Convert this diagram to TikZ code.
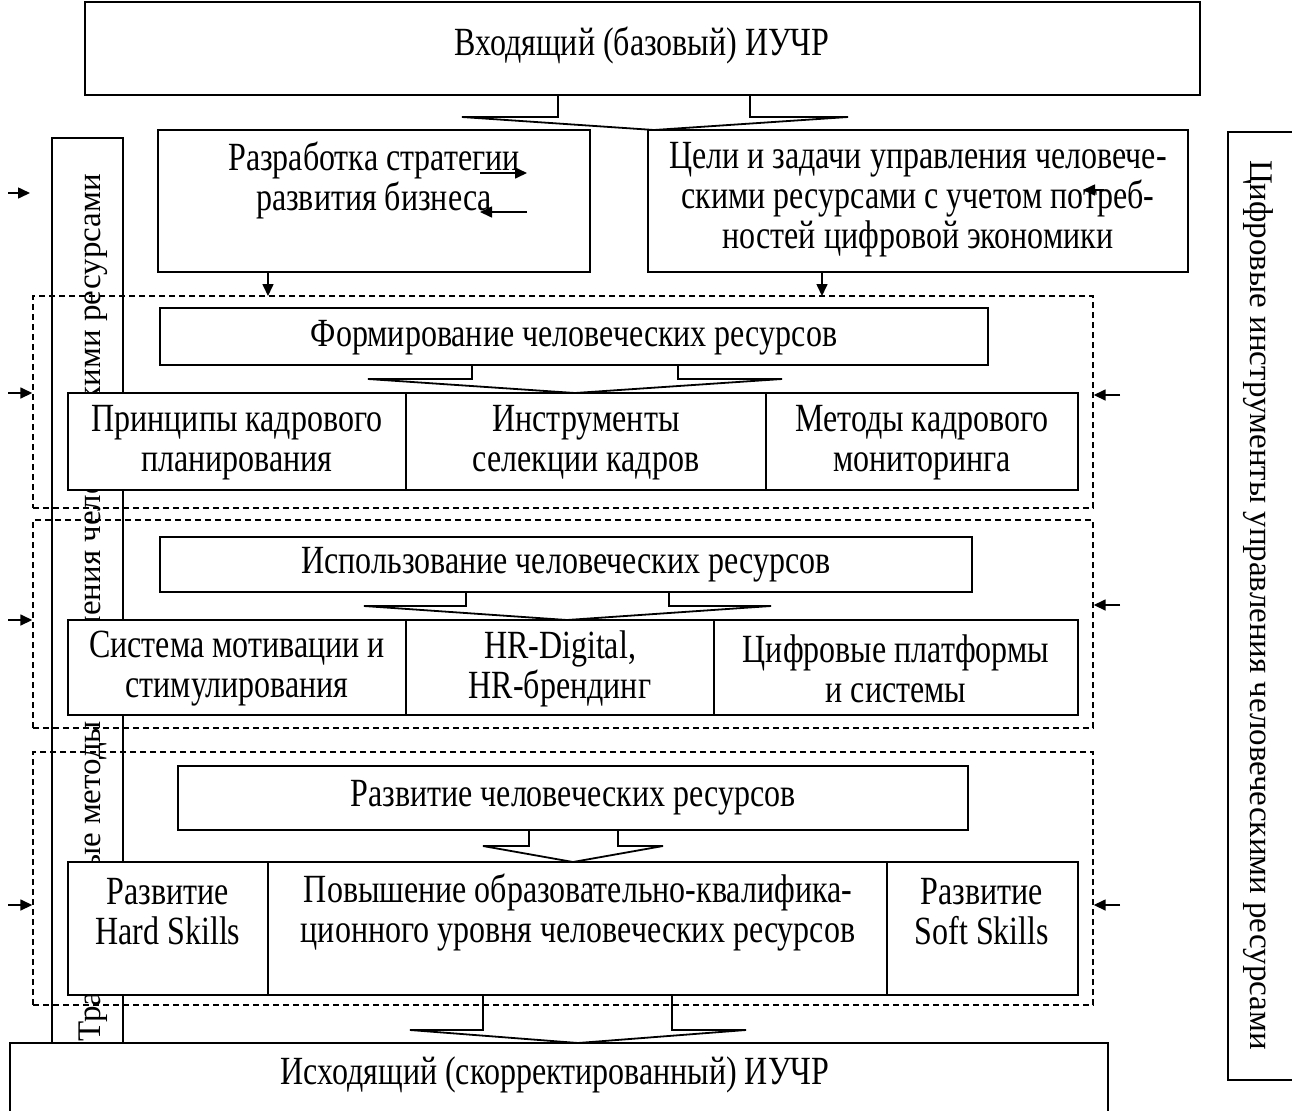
\documentclass[tikz,border=0pt]{standalone}
\usepackage{fontspec}
\setmainfont{Liberation Serif}[FakeStretch=0.8]
\newfontfamily\vfont{Liberation Serif}
\usetikzlibrary{arrows.meta,fit}
\begin{document}
\begin{tikzpicture}[x=0.5pt,y=-0.5pt,
  box/.style={draw, line width=0.9pt, fill=white, inner sep=0pt},
  txt/.style={font=\fontsize{20}{20}\selectfont, align=center, inner sep=0pt},
  vtxt/.style={font=\vfont\fontsize{16.5}{20}\selectfont, inner sep=0pt},
  dframe/.style={draw, line width=0.7pt, dash pattern=on 3pt off 2pt, inner sep=0pt},
  arr/.style={line width=0.8pt, -{Triangle[length=6pt,width=5.5pt]}},
  barrow/.style={draw, line width=0.9pt, line join=miter}]
\useasboundingbox (0,0) rectangle (1292,1110);

% left vertical box with partly hidden text
\node[box, fit={(52,138) (123,1043)}] (lbox) {};
\node[vtxt, rotate=90, anchor=west] (ltext) at (93,1042) {Традиционные методы управления человеческими ресурсами};

% right vertical box
\node[box, fit={(1228,132) (1310,1080)}] (rbox) {};
\node[vtxt, rotate=-90] (rtext) at (1258,605) {Цифровые инструменты управления человеческими ресурсами};

% top box
\node[box, fit={(85,2) (1200,95)}] (top) {};
\node[txt] (toptext) at (642,45) {Входящий (базовый) ИУЧР};

% block arrows
\draw[barrow] (558,95) -- (558,117) -- (462,117) -- (654,130) -- (848,117) -- (750,117) -- (750,95);
\draw[barrow] (472,365) -- (472,379) -- (368,379) -- (575,393) -- (782,379) -- (678,379) -- (678,365);
\draw[barrow] (466,592) -- (466,606) -- (364,606) -- (567,620) -- (771,606) -- (669,606) -- (669,592);
\draw[barrow] (529,830) -- (529,846) -- (483,846) -- (573,862) -- (663,846) -- (618,846) -- (618,830);
\draw[barrow] (483,995) -- (483,1030) -- (410,1030) -- (578,1043) -- (746,1030) -- (672,1030) -- (672,995);

% second level
\node[box, fit={(158,130) (590,272)}] (razr) {};
\node[txt] (razrtext) at (374,180) {Разработка стратегии\\развития бизнеса};
\node[box, fit={(648,130) (1188,272)}] (celi) {};
\node[txt] (celitext) at (918,200) {Цели и задачи управления человече-\\скими ресурсами с учетом потреб-\\ностей цифровой экономики};

% dashed frames
\node[dframe, fit={(33,296) (1093,508)}] (f1) {};
\node[dframe, fit={(33,520) (1093,728)}] (f2) {};
\node[dframe, fit={(33,752) (1093,1005)}] (f3) {};

% frame 1 content
\node[box, fit={(160,308) (988,365)}] (form) {};
\node[txt] (formtext) at (574,338) {Формирование человеческих ресурсов};
\node[box, fit={(68,393) (406,490)}] (c11) {};
\node[box, fit={(406,393) (766,490)}] (c12) {};
\node[box, fit={(766,393) (1078,490)}] (c13) {};
\node[txt] (t11) at (237,443) {Принципы кадрового\\планирования};
\node[txt] (t12) at (586,443) {Инструменты\\селекции кадров};
\node[txt] (t13) at (922,443) {Методы кадрового\\мониторинга};

% frame 2 content
\node[box, fit={(160,537) (972,592)}] (isp) {};
\node[txt] (isptext) at (566,565) {Использование человеческих ресурсов};
\node[box, fit={(68,620) (406,715)}] (c21) {};
\node[box, fit={(406,620) (714,715)}] (c22) {};
\node[box, fit={(714,620) (1078,715)}] (c23) {};
\node[txt] (t21) at (237,669) {Система мотивации и\\стимулирования};
\node[txt] (t22) at (560,669) {HR-Digital,\\HR-брендинг};
\node[txt] (t23) at (896,669) {Цифровые платформы\\и системы};

% frame 3 content
\node[box, fit={(178,766) (968,830)}] (razv) {};
\node[txt] (razvtext) at (573,798) {Развитие человеческих ресурсов};
\node[box, fit={(68,862) (268,995)}] (c31) {};
\node[box, fit={(268,862) (887,995)}] (c32) {};
\node[box, fit={(887,862) (1078,995)}] (c33) {};
\node[txt] (t31) at (168,912) {Развитие\\Hard Skills};
\node[txt] (t32) at (578,912) {Повышение образовательно-квалифика-\\ционного уровня человеческих ресурсов};
\node[txt] (t33) at (982,912) {Развитие\\Soft Skills};

% bottom box
\node[box, fit={(10,1043) (1108,1120)}] (bot) {};
\node[txt] (bottext) at (555,1075) {Исходящий (скорректированный) ИУЧР};

% down arrows into frame 1
\coordinate (d1) at (268,296);
\coordinate (d2) at (822,296);
\draw[arr] (d1 |- razr.south) -- (d1);
\draw[arr] (d2 |- celi.south) -- (d2);

% stray arrows between strategy and goals
\coordinate (s1a) at (480,173); \coordinate (s1b) at (527,173);
\coordinate (s2a) at (527,212); \coordinate (s2b) at (480,212);
\coordinate (s3a) at (1104,190); \coordinate (s3b) at (1083,190);
\draw[arr] (s1a) -- (s1b);
\draw[arr] (s2a) -- (s2b);
\draw[arr] (s3a) -- (s3b);

% left input arrows
\coordinate (la0) at (8,193); \coordinate (lb0) at (30,193);
\coordinate (la1) at (8,393);
\coordinate (la2) at (8,620);
\coordinate (la3) at (8,905);
\draw[arr] (la0) -- (lb0);
\draw[arr] (la1) -- (la1 -| f1.west);
\draw[arr] (la2) -- (la2 -| f2.west);
\draw[arr] (la3) -- (la3 -| f3.west);

% right input arrows
\coordinate (ra1) at (1120,395);
\coordinate (ra2) at (1120,605);
\coordinate (ra3) at (1120,905);
\draw[arr] (ra1) -- (ra1 -| f1.east);
\draw[arr] (ra2) -- (ra2 -| f2.east);
\draw[arr] (ra3) -- (ra3 -| f3.east);
\end{tikzpicture}
\end{document}
